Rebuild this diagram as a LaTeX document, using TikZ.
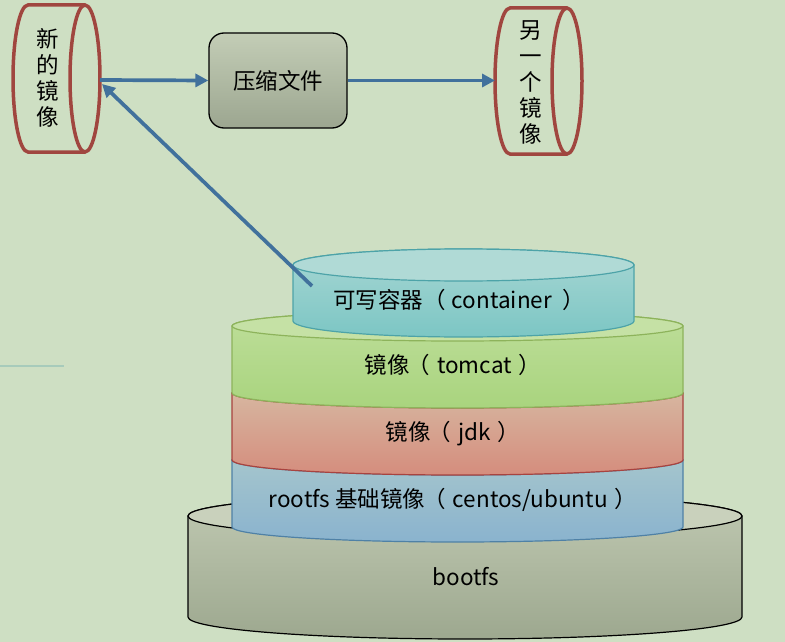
\documentclass[tikz,border=0pt]{standalone}
\usepackage{fontspec}
\setmainfont{Noto Sans CJK SC}
\usetikzlibrary{arrows.meta}
\definecolor{bg}{HTML}{CEDFC3}
\definecolor{arrowblue}{HTML}{41719C}
\definecolor{cylred}{HTML}{A0463F}
\definecolor{contTop}{HTML}{B0DAD6}
\definecolor{contA}{HTML}{A7D6D3}
\definecolor{contB}{HTML}{7CC6C4}
\definecolor{contL}{HTML}{4DA3A8}
\definecolor{tomTop}{HTML}{C5E1A5}
\definecolor{tomA}{HTML}{BEDE9A}
\definecolor{tomB}{HTML}{A9D47E}
\definecolor{tomL}{HTML}{8DB35B}
\definecolor{jdkA}{HTML}{D7BDA6}
\definecolor{jdkB}{HTML}{D58D7D}
\definecolor{jdkL}{HTML}{A8433F}
\definecolor{rootA}{HTML}{A9C8CC}
\definecolor{rootB}{HTML}{8AB3CE}
\definecolor{rootL}{HTML}{4F81A6}
\definecolor{bootTop}{HTML}{C9D1BC}
\definecolor{bootA}{HTML}{C0C9B2}
\definecolor{bootB}{HTML}{9DA88F}
\definecolor{boxA}{HTML}{C3CDB6}
\definecolor{boxB}{HTML}{9CA690}
\definecolor{faint}{HTML}{A7CBBB}
% #1 cx, #2 ytop, #3 ybot, #4 rx, #5 ry, #6 top face, #7 body top, #8 body bottom, #9 line
\newcommand\stacklayer[9]{%
  \path[draw=#9, line width=1.2pt, top color=#7, bottom color=#8]
    (#1-#4,#2) -- (#1-#4,#3)
    arc[start angle=180, end angle=360, x radius=#4pt, y radius=#5pt]
    -- (#1+#4,#2)
    arc[start angle=0, end angle=180, x radius=#4pt, y radius=#5pt] -- cycle;
  \path[draw=#9, line width=1.2pt, fill=#6] (#1,#2) ellipse[x radius=#4pt, y radius=#5pt];
}
\newcommand\lp{\hspace{-2pt}（\hspace{7pt}}
\newcommand\rp{\hspace{7pt}）}
\begin{document}
\begin{tikzpicture}[x=1pt,y=-1pt,
  arr/.style={draw=arrowblue, line width=3.7pt, -{Triangle[length=13pt,width=13pt]}},
  cylline/.style={draw=cylred, line width=3.5pt},
  vtext/.style={font=\fontsize{22.5}{26}\selectfont, align=center, inner sep=0pt},
  ltext/.style={font=\fontsize{22.5}{26}\selectfont, inner sep=0pt, anchor=center},
  zipbox/.style={draw=black, line width=1.3pt, rounded corners=15pt, top color=boxA, bottom color=boxB,
    minimum width=138pt, minimum height=95pt, font=\fontsize{22.5}{26}\selectfont}
]
\useasboundingbox (0,0) rectangle (785,642);
\fill[bg] (0,0) rectangle (785,642);
\draw[faint, line width=2pt] (0,366) -- (64,366);

% layered stack
\stacklayer{465}{516}{617}{277}{22}{bootTop}{bootA}{bootB}{black}
\stacklayer{457.5}{460}{527}{225.5}{15}{rootA}{rootA}{rootB}{rootL}
\stacklayer{457.5}{393}{460}{225.5}{15}{jdkA}{jdkA}{jdkB}{jdkL}
\stacklayer{457.5}{326}{393}{225.5}{15}{tomTop}{tomA}{tomB}{tomL}
\stacklayer{463.5}{265}{321}{170.5}{16}{contTop}{contA}{contB}{contL}

\node[ltext] (container) at (459,300) {可写容器（\hspace{6pt}container\hspace{10pt}）};
\node[ltext] (tomcat) at (453,365) {镜像\lp tomcat\rp};
\node[ltext] (jdk) at (453,434) {镜像\lp jdk\rp};
\node[ltext] (rootfs) at (453,500) {rootfs 基础镜像\lp centos/ubuntu\rp};
\node[ltext] (bootfs) at (466,577) {bootfs};

% left cylinder (new image)
\draw[cylline] (85,5) -- (28,5) arc[start angle=90, end angle=270, x radius=15pt, y radius=73.5pt] -- (85,152);
\draw[cylline] (85,78.5) ellipse[x radius=15pt, y radius=73.5pt];
\node[vtext] (newimg) at (48,78) {新\\的\\镜\\像};
\coordinate (newimgE) at (100,80);
\coordinate (newimgSE) at (102,84);

% right cylinder (another image)
\draw[cylline] (567,8) -- (510,8) arc[start angle=90, end angle=270, x radius=15pt, y radius=73pt] -- (567,154);
\draw[cylline] (567,81) ellipse[x radius=15pt, y radius=73pt];
\node[vtext] (otherimg) at (531,82) {另\\一\\个\\镜\\像};
\coordinate (otherW) at (495,80.5);

% compress box
\node[zipbox] (zip) at (278,80.5) {压缩文件};

% connectors
\coordinate (contTL) at (312,286);
\draw[arr] (newimgE) -- (zip.west);
\draw[arr] (zip.east) -- (otherW);
\draw[arr] (contTL) -- (newimgSE);
\end{tikzpicture}
\end{document}
